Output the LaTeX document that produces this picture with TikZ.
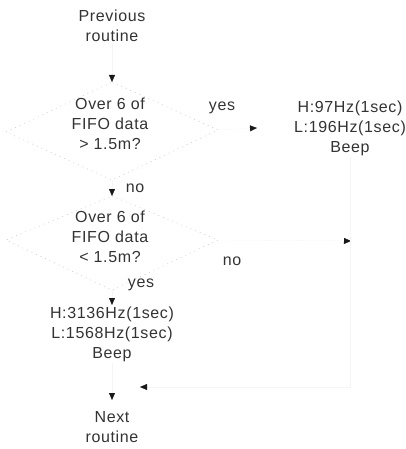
\documentclass[tikz,border=0pt]{standalone}
\usepackage{fontspec}
\setmainfont{Liberation Sans}[LetterSpace=4]
\usetikzlibrary{arrows.meta}
\tikzset{
  txt/.style={font=\fontsize{16}{20}\selectfont, text=black!80, align=center, inner sep=1pt},
  lbl/.style={font=\fontsize{16}{20}\selectfont, text=black!80, inner sep=0pt},
  conn/.style={draw=black!4, line width=0.3pt, -{Triangle[length=7pt,width=6pt,color=black!90]}},
  dia/.style={draw=black!22, line width=0.5pt, dash pattern=on 1pt off 4pt}
}
\begin{document}
\begin{tikzpicture}[x=1pt,y=-1pt]
\useasboundingbox (0,0) rectangle (406,449);
% nodes
\node[txt] (prev) at (112,26) {Previous\\routine};
\node[txt] (d1t) at (110,124) {Over 6 of\\FIFO data\\> 1.5m?};
\node[txt] (b1) at (350,128) {H:97Hz(1sec)\\L:196Hz(1sec)\\Beep};
\node[txt] (d2t) at (110,237) {Over 6 of\\FIFO data\\< 1.5m?};
\node[txt] (b2) at (112,334) {H:3136Hz(1sec)\\L:1568Hz(1sec)\\Beep};
\node[txt] (next) at (112,427) {Next\\routine};
% labels
\node[lbl] (l1) at (222,108) {yes};
\node[lbl] (l2) at (135,188) {no};
\node[lbl] (l3) at (232,261) {no};
\node[lbl] (l4) at (141,285) {yes};
% diamond corners
\coordinate (d1n) at (112,82);
\coordinate (d1e) at (218,130);
\coordinate (d1s) at (112,180);
\coordinate (d1w) at (6,132);
\coordinate (d2n) at (112,196);
\coordinate (d2e) at (218,240);
\coordinate (d2s) at (112,290);
\coordinate (d2w) at (6,240);
\coordinate (y1) at (257,128);
\coordinate (jr) at (351,241);
\coordinate (jb) at (360,387);
\coordinate (jl) at (140,387);
\coordinate (b2t) at (112,305);
\coordinate (nt) at (112,400);
% faint diamonds
\draw[dia] (d1n) -- (d1e) -- (d1s) -- (d1w) -- cycle;
\draw[dia] (d2n) -- (d2e) -- (d2s) -- (d2w) -- cycle;
% connectors
\draw[conn] (prev) -- (d1n);
\draw[conn] (d1e) -- (y1);
\draw[conn] (d1s) -- (d2n);
\draw[conn] (d2e) -- (jr);
\draw[conn] (d2s) -- (b2t);
\draw[conn] (b2) -- (nt);
\draw[conn] (b1) |- (jl);
\end{tikzpicture}
\end{document}
